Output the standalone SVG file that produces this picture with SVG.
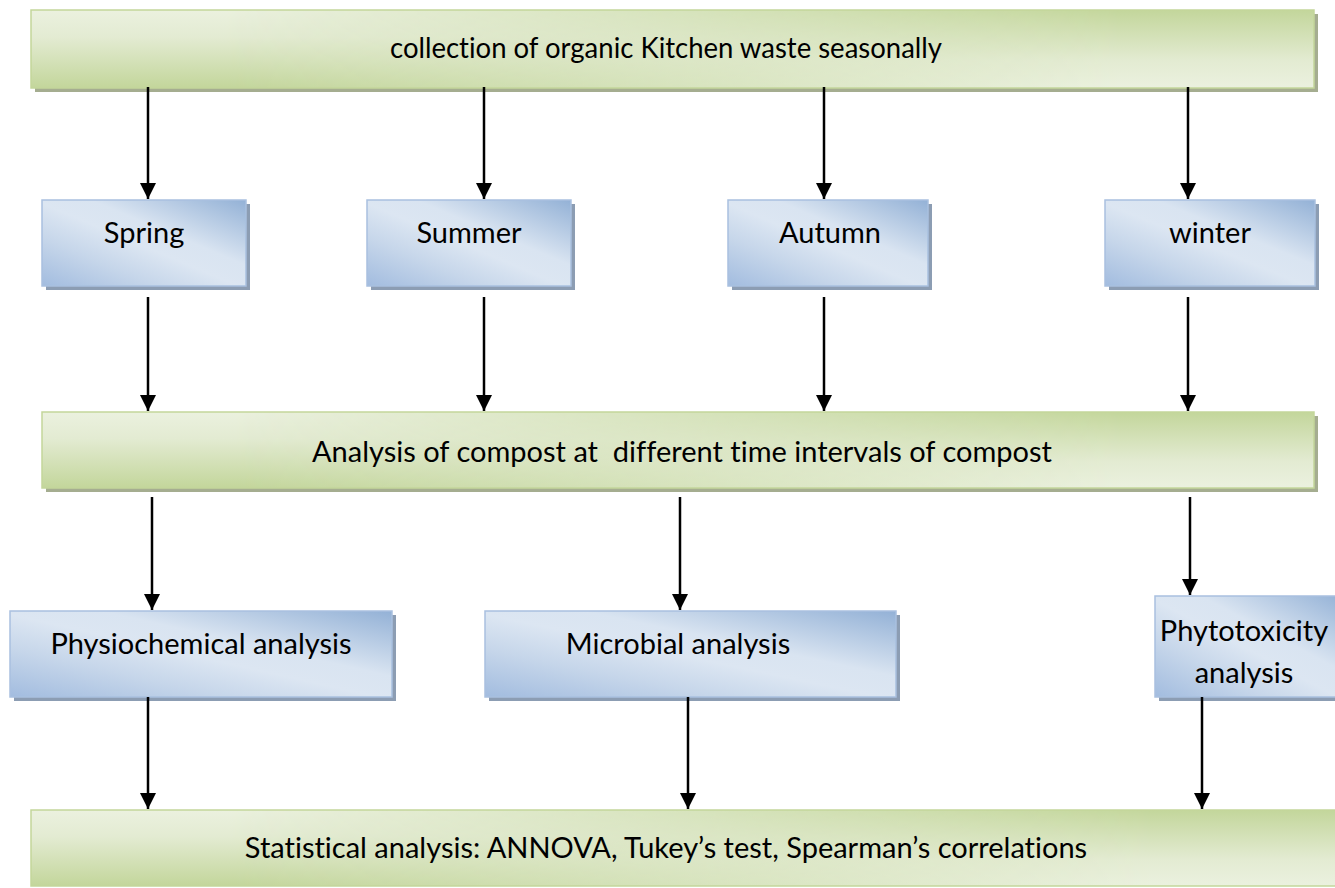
<svg xmlns="http://www.w3.org/2000/svg" width="1335" height="888" viewBox="0 0 1335 888">
  <defs>
    <!-- green bar shading: light top / dark bottom on the left, reversed on the right -->
    <linearGradient id="gDown" x1="0" y1="0" x2="0" y2="1">
      <stop offset="0" stop-color="#ebf1df"/>
      <stop offset="0.35" stop-color="#e3ebd2"/>
      <stop offset="1" stop-color="#c3d69b"/>
    </linearGradient>
    <linearGradient id="gUp" x1="0" y1="0" x2="0" y2="1">
      <stop offset="0" stop-color="#c3d69b"/>
      <stop offset="0.65" stop-color="#e3ebd2"/>
      <stop offset="1" stop-color="#ebf1df"/>
    </linearGradient>
    <linearGradient id="fadeX" x1="0" y1="0" x2="1" y2="0">
      <stop offset="0.15" stop-color="#000"/>
      <stop offset="0.85" stop-color="#fff"/>
    </linearGradient>
    <mask id="rightFade" maskContentUnits="objectBoundingBox">
      <rect x="0" y="0" width="1" height="1" fill="url(#fadeX)"/>
    </mask>
    <!-- blue box shading: dark corners bottom-left and top-right, light diagonal band -->
    <linearGradient id="bDiag" x1="0" y1="1" x2="1" y2="0">
      <stop offset="0" stop-color="#a2bcdf"/>
      <stop offset="0.28" stop-color="#c6d6ea"/>
      <stop offset="0.48" stop-color="#dce6f2"/>
      <stop offset="0.62" stop-color="#d9e4f1"/>
      <stop offset="1" stop-color="#93b1d6"/>
    </linearGradient>
    <marker id="arrow" markerUnits="userSpaceOnUse" markerWidth="16" markerHeight="16" viewBox="0 0 16 16" refX="16" refY="8" orient="auto">
      <path d="M0,0 L16,8 L0,16 Z" fill="#000"/>
    </marker>
    <style>
      .gshadow { fill: #a5ad90; }
      .bshadow { fill: #8c9db3; }
      .gA { fill: url(#gDown); }
      .gB { fill: url(#gUp); }
      .gEdge { fill: none; stroke: #c3d69b; stroke-width: 1.5; }
      .bbox { fill: url(#bDiag); stroke: #a9c0df; stroke-width: 1.5; }
      .lbl { font-family: Lato, "Liberation Sans", sans-serif; font-size: 29px; fill: #000; text-anchor: middle; font-variant-ligatures: none; }
      .conn line { stroke: #000; stroke-width: 2.5; marker-end: url(#arrow); }
    </style>
  </defs>

  <rect width="1335" height="888" fill="#fff"/>

  <!-- top bar -->
  <g id="collection">
    <rect class="gshadow" x="35" y="14" width="1283" height="78"/>
    <rect class="gA" x="31" y="10" width="1283" height="78"/>
    <rect class="gB" x="31" y="10" width="1283" height="78" mask="url(#rightFade)"/>
    <rect class="gEdge" x="31" y="10" width="1283" height="78"/>
    <text class="lbl" x="666" y="58" textLength="552" lengthAdjust="spacingAndGlyphs">collection of organic Kitchen waste seasonally</text>
  </g>

  <!-- seasons -->
  <g id="spring">
    <rect class="bshadow" x="46" y="204" width="204" height="86"/>
    <rect class="bbox" x="42" y="200" width="204" height="86"/>
    <text class="lbl" x="144" y="243">Spring</text>
  </g>
  <g id="summer">
    <rect class="bshadow" x="371" y="204" width="204" height="86"/>
    <rect class="bbox" x="367" y="200" width="204" height="86"/>
    <text class="lbl" x="469" y="243">Summer</text>
  </g>
  <g id="autumn">
    <rect class="bshadow" x="732" y="204" width="200" height="86"/>
    <rect class="bbox" x="728" y="200" width="200" height="86"/>
    <text class="lbl" x="830" y="243">Autumn</text>
  </g>
  <g id="winter">
    <rect class="bshadow" x="1109" y="204" width="210" height="86"/>
    <rect class="bbox" x="1105" y="200" width="210" height="86"/>
    <text class="lbl" x="1210" y="243">winter</text>
  </g>

  <!-- analysis bar -->
  <g id="analysis">
    <rect class="gshadow" x="46" y="416" width="1272" height="76"/>
    <rect class="gA" x="42" y="412" width="1272" height="76"/>
    <rect class="gB" x="42" y="412" width="1272" height="76" mask="url(#rightFade)"/>
    <rect class="gEdge" x="42" y="412" width="1272" height="76"/>
    <text class="lbl" x="682" y="462" xml:space="preserve">Analysis of compost at  different time intervals of compost</text>
  </g>

  <!-- analysis types -->
  <g id="physiochemical">
    <rect class="bshadow" x="14" y="615" width="382" height="86"/>
    <rect class="bbox" x="10" y="611" width="382" height="86"/>
    <text class="lbl" x="201" y="654">Physiochemical analysis</text>
  </g>
  <g id="microbial">
    <rect class="bshadow" x="489" y="615" width="411" height="86"/>
    <rect class="bbox" x="485" y="611" width="411" height="86"/>
    <text class="lbl" x="678" y="654">Microbial analysis</text>
  </g>
  <g id="phytotoxicity">
    <rect class="bshadow" x="1159" y="600" width="190" height="101"/>
    <rect class="bbox" x="1155" y="596" width="190" height="101"/>
    <text class="lbl" x="1244" y="641">Phytotoxicity</text>
    <text class="lbl" x="1244" y="683">analysis</text>
  </g>

  <!-- statistics bar -->
  <g id="statistics">
    <rect class="gA" x="31" y="810" width="1320" height="76"/>
    <rect class="gB" x="31" y="810" width="1320" height="76" mask="url(#rightFade)"/>
    <rect class="gEdge" x="31" y="810" width="1320" height="76"/>
    <text class="lbl" x="666" y="858">Statistical analysis: ANNOVA, Tukey’s test, Spearman’s correlations</text>
  </g>

  <!-- connectors -->
  <g id="connectors" class="conn">
    <line x1="148" y1="87" x2="148" y2="199"/>
    <line x1="484" y1="87" x2="484" y2="199"/>
    <line x1="824" y1="87" x2="824" y2="199"/>
    <line x1="1188" y1="87" x2="1188" y2="199"/>

    <line x1="148" y1="297" x2="148" y2="411"/>
    <line x1="484" y1="297" x2="484" y2="411"/>
    <line x1="824" y1="297" x2="824" y2="411"/>
    <line x1="1188" y1="297" x2="1188" y2="411"/>

    <line x1="152" y1="497" x2="152" y2="610"/>
    <line x1="680" y1="497" x2="680" y2="610"/>
    <line x1="1190" y1="497" x2="1190" y2="595"/>

    <line x1="148" y1="697" x2="148" y2="809"/>
    <line x1="688" y1="697" x2="688" y2="809"/>
    <line x1="1202" y1="697" x2="1202" y2="809"/>
  </g>
</svg>
